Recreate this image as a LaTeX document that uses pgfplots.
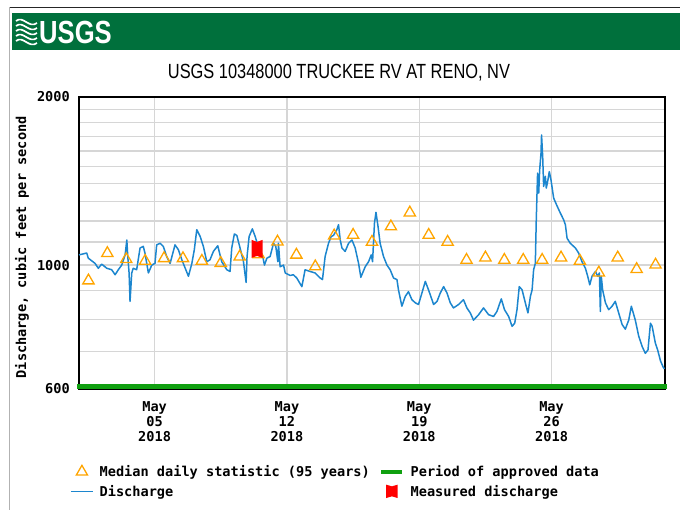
\documentclass[border=0pt]{standalone}
\usepackage{pgfplots}
\pgfplotsset{compat=1.18}
\usepackage{fontspec}
\setmainfont{Liberation Sans}
\newfontfamily\monofont{DejaVu Sans Mono}
\newfontfamily\narrowfont[FakeStretch=0.8]{Liberation Sans}
\newcommand{\lab}{\monofont\bfseries\fontsize{13.6bp}{15.3bp}\selectfont}

\definecolor{usgsgreen}{RGB}{0,112,60}
\definecolor{qblue}{RGB}{28,134,206}
\definecolor{medorange}{RGB}{255,165,0}
\definecolor{apgreen}{RGB}{16,160,16}
\definecolor{gridgray}{RGB}{214,214,214}

% red measurement symbol (box with notched ends)
\pgfdeclareplotmark{meas}{%
  \pgfpathmoveto{\pgfpoint{-5.5bp}{-9bp}}%
  \pgfpathlineto{\pgfpoint{0bp}{-7bp}}%
  \pgfpathlineto{\pgfpoint{5.5bp}{-9bp}}%
  \pgfpathlineto{\pgfpoint{5.5bp}{9bp}}%
  \pgfpathlineto{\pgfpoint{0bp}{7bp}}%
  \pgfpathlineto{\pgfpoint{-5.5bp}{9bp}}%
  \pgfpathclose\pgfusepathqfill}

\pgfplotsset{
  legtri/.style={legend image code/.code={%
    \path[draw=none, fill=none] (0bp,0bp) -- (22bp,0bp);
    \draw[draw=medorange, fill=none, line width=1.3bp] (11bp,6.5bp) -- (5.37bp,-3.25bp) -- (16.63bp,-3.25bp) -- cycle;}},
  legline/.style={legend image code/.code={%
    \draw[draw=qblue, line width=1.5bp] (0bp,0bp) -- (22bp,0bp);}},
  legapp/.style={legend image code/.code={%
    \path[draw=none, fill=none] (0bp,0bp) -- (25bp,0bp);
    \draw[draw=apgreen, line width=4.5bp] (1.5bp,0bp) -- (22.5bp,0bp);}},
  legmeas/.style={legend image code/.code={%
    \path[draw=none, fill=none] (0bp,0bp) -- (25bp,0bp);
    \fill[red, draw=none] (6.5bp,-6.7bp) -- (12.3bp,-5bp) -- (18.1bp,-6.7bp) -- (18.1bp,6.7bp) -- (12.3bp,5bp) -- (6.5bp,6.7bp) -- cycle;}},
}

\begin{document}
\begin{tikzpicture}
\useasboundingbox (-79bp,-121bp) rectangle (601bp,389bp);
% page frame and banner
\draw[black!85, line width=1bp] (-69.7bp,381.7bp) -- (601bp,381.7bp);
\draw[black!30, line width=1bp] (-69.7bp,381.7bp) -- (-69.7bp,-121bp);
\fill[usgsgreen] (-67.3bp,339bp) rectangle (601bp,376.3bp);
\foreach \k in {0,1,2,3,4} {
  \draw[white, line width=1.7bp] (-63bp,{(368-5*\k)*1bp}) .. controls (-56bp,{(374-5*\k)*1bp}) and (-50bp,{(360-5*\k)*1bp}) .. (-42bp,{(366-5*\k)*1bp});
}
\node[anchor=base west, inner sep=0pt, text=white, font=\narrowfont\bfseries\fontsize{32bp}{32bp}\selectfont] at (-40bp,345bp) {USGS};
\node[anchor=base, inner sep=0pt, font=\narrowfont\fontsize{20.5bp}{24bp}\selectfont] at (260bp,310bp) {USGS 10348000 TRUCKEE RV AT RENO, NV};

\begin{axis}[
    at={(0,0)}, anchor=south west,
    scale only axis,
    width=586bp, height=292bp,
    clip=false,
    xmin=0, xmax=31,
    ymode=log, ymin=600, ymax=2000,
    xtick={4,11,18,25},
    xticklabels={{May\\05\\2018},{May\\12\\2018},{May\\19\\2018},{May\\26\\2018}},
    ytick={600,1000,2000},
    yticklabels={600,1000,2000},
    minor ytick={700,800,900,1100,1200,1300,1400,1500,1600,1700,1800,1900},
    xmajorgrids, ymajorgrids, yminorgrids,
    major grid style={draw=gridgray, line width=1.3bp},
    minor grid style={draw=gridgray, line width=1.3bp},
    major tick length=0pt, minor tick length=0pt,
    tick style={draw=none},
    axis line style={black, line width=1.2bp},
    ticklabel style={font=\lab},
    xticklabel style={align=center, anchor=north, inner sep=0pt, yshift=-12bp},
    yticklabel style={anchor=east, inner sep=0pt, xshift=-9bp},
    ylabel={Discharge, cubic feet per second},
    every axis y label/.style={at={(axis description cs:-0.0973,0.485)}, rotate=90, anchor=center, font=\lab},
    legend columns=2,
    legend cell align=left,
    legend style={at={(axis description cs:-0.0154,-0.2586)}, anchor=north west,
        draw=none, fill=none, inner sep=0pt, font=\lab, row sep=5.5bp,
        nodes={inner sep=0pt, text height=12bp, text depth=2bp},
        /tikz/every odd column/.append style={column sep=6bp},
        /tikz/every even column/.append style={column sep=9bp}},
]

% period of approved data
\addplot[apgreen, line width=4.5bp, line cap=rect, forget plot] coordinates {(0,606) (31,606)};

% median daily statistic
\addplot[only marks, mark=triangle, mark size=6.5bp, draw=medorange, line width=1.3bp, forget plot] coordinates {
 (0.5,938) (1.5,1050) (2.5,1024) (3.5,1017) (4.5,1028) (5.5,1028) (6.5,1017) (7.5,1008)
 (8.5,1035) (9.5,1045) (10.5,1101) (11.5,1043) (12.5,994) (13.5,1129) (14.5,1132) (15.5,1100)
 (16.5,1172) (17.5,1241) (18.5,1132) (19.5,1100) (20.5,1021) (21.5,1031) (22.5,1021) (23.5,1021)
 (24.5,1021) (25.5,1031) (26.5,1017) (27.5,969) (28.5,1031) (29.5,983) (30.5,1001)
};

% discharge
\addplot[qblue, line width=1.5bp, line join=round, forget plot] coordinates {
 (0.00,1043) (0.41,1051) (0.49,1029) (0.85,1007) (1.02,987) (1.20,1004) (1.47,987) (1.73,981)
 (1.91,961) (2.08,981) (2.26,1000) (2.44,1043) (2.53,1109) (2.58,1036) (2.65,968) (2.70,861)
 (2.79,968) (2.87,987) (3.05,981) (3.23,1073) (3.40,1080) (3.49,1051) (3.67,968) (3.85,1000)
 (4.02,1007) (4.11,1087) (4.29,1094) (4.46,1080) (4.64,1036) (4.82,1007) (5.08,1087) (5.26,1065)
 (5.44,1022) (5.79,955) (5.97,1007) (6.10,1065) (6.23,1157) (6.41,1125) (6.58,1080) (6.76,1014)
 (6.93,1022) (7.11,1058) (7.34,1083) (7.55,1014) (7.82,981) (7.99,974) (8.08,1073) (8.22,1137)
 (8.35,1130) (8.52,1073) (8.70,1014) (8.84,931) (8.89,1036) (9.00,1125) (9.17,1161) (9.32,1125)
 (9.48,1080) (9.72,1036) (9.81,1000) (9.94,1029) (10.11,1036) (10.29,1094) (10.41,1080) (10.52,1014)
 (10.55,1094) (10.64,993) (10.82,1000) (10.91,968) (11.17,958) (11.34,961) (11.52,948) (11.79,915)
 (11.96,981) (12.23,974) (12.49,968) (12.76,948) (12.88,942) (13.02,1036) (13.20,1094) (13.34,1125)
 (13.46,1130) (13.64,1157) (13.73,1181) (13.82,1109) (13.91,1073) (14.08,1058) (14.26,1094) (14.44,1109)
 (14.61,1073) (14.79,1007) (14.91,951) (15.14,993) (15.32,1014) (15.46,1043) (15.53,1014) (15.63,1188)
 (15.71,1243) (15.82,1172) (15.93,1094) (16.11,1036) (16.29,1000) (16.46,981) (16.64,948) (16.82,942)
 (16.90,903) (17.08,844) (17.26,879) (17.43,896) (17.61,867) (17.79,856) (17.96,850) (18.14,891)
 (18.32,935) (18.49,903) (18.76,850) (18.94,861) (19.11,891) (19.29,915) (19.47,891) (19.64,856)
 (19.81,838) (20.08,850) (20.34,867) (20.52,838) (20.70,821) (20.87,797) (21.14,815) (21.40,838)
 (21.67,815) (21.93,809) (22.11,826) (22.34,870) (22.51,832) (22.73,809) (22.91,777) (23.05,787)
 (23.17,832) (23.29,915) (23.44,903) (23.61,856) (23.75,821) (23.88,879) (23.97,903) (24.05,981)
 (24.14,1007) (24.19,1205) (24.26,1461) (24.32,1345) (24.37,1481) (24.44,1585) (24.47,1710) (24.53,1563)
 (24.58,1383) (24.67,1442) (24.72,1374) (24.79,1410) (24.88,1470) (24.97,1420) (25.11,1318) (25.29,1276)
 (25.46,1240) (25.64,1205) (25.73,1181) (25.82,1117) (25.99,1094) (26.26,1073) (26.43,1051) (26.61,1014)
 (26.79,987) (26.91,955) (27.02,922) (27.14,955) (27.32,974) (27.44,955) (27.53,968) (27.58,826)
 (27.63,955) (27.70,903) (27.85,856) (28.02,832) (28.20,844) (28.37,861) (28.55,821) (28.73,783)
 (28.90,768) (29.08,797) (29.22,844) (29.43,797) (29.61,746) (29.79,715) (29.96,695) (30.10,705)
 (30.23,787) (30.32,777) (30.49,725) (30.61,705) (30.76,674) (30.90,657) (30.97,652)
};

% measured discharge
\addplot[only marks, mark=meas, red, forget plot] coordinates {(9.42,1069)};

\addlegendimage{legtri}
\addlegendentry{Median daily statistic (95 years)}
\addlegendimage{legapp}
\addlegendentry{Period of approved data}
\addlegendimage{legline}
\addlegendentry{Discharge}
\addlegendimage{legmeas}
\addlegendentry{Measured discharge}
\end{axis}
\end{tikzpicture}
\end{document}
